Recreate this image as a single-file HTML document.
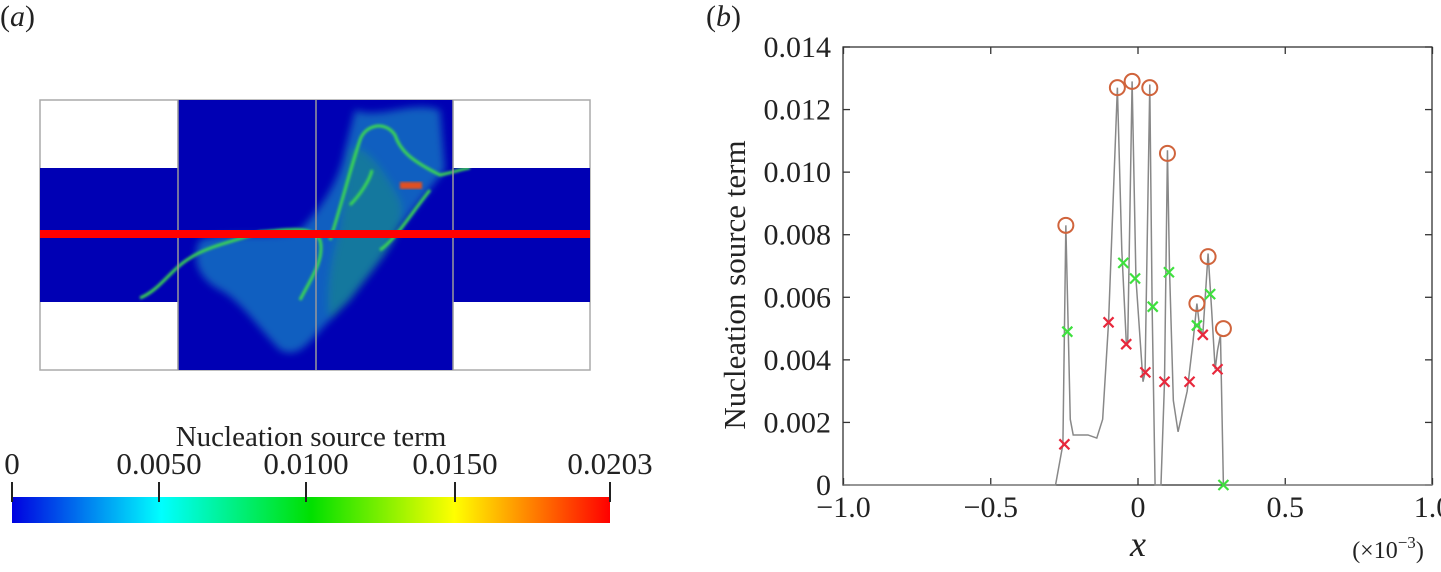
<!DOCTYPE html>
<html><head><meta charset="utf-8"><style>
body{margin:0;background:#fff;width:1441px;height:567px;overflow:hidden;font-family:"Liberation Serif",serif;}
svg text{font-family:"Liberation Serif",serif;fill:#222;}
</style></head><body>
<svg width="1441" height="567">
<text x="0" y="26" font-size="30">(<tspan font-style="italic">a</tspan>)</text>
<text x="706" y="26" font-size="30">(<tspan font-style="italic">b</tspan>)</text>
<defs>
<filter id="bl" x="-20%" y="-20%" width="140%" height="140%"><feGaussianBlur stdDeviation="4"/></filter>
<filter id="bl2"><feGaussianBlur stdDeviation="1.2"/></filter>
<linearGradient id="cb" x1="0" x2="1"><stop offset="0" stop-color="#0000e0"/><stop offset="0.25" stop-color="#00ffff"/><stop offset="0.5" stop-color="#00e000"/><stop offset="0.74" stop-color="#ffff00"/><stop offset="1" stop-color="#ff0000"/></linearGradient>
<clipPath id="cc"><rect x="178" y="100" width="275" height="270"/><rect x="40" y="168" width="550" height="134"/></clipPath>
</defs>
<g>
<rect x="40" y="100" width="550" height="270" fill="#fff" stroke="#aaa" stroke-width="1.5"/>
<rect x="178" y="100" width="275" height="270" fill="#0000b4"/>
<rect x="40" y="168" width="550" height="134" fill="#0000b4"/>
<g clip-path="url(#cc)">
<g filter="url(#bl)" opacity="0.6">
<path d="M355 110 C380 120 410 100 440 110 L445 170 C420 200 400 230 380 250 C360 270 350 300 330 320 C310 340 300 360 280 350 C260 330 240 300 220 290 C200 280 190 260 200 240 C230 230 270 240 300 230 C320 210 340 180 345 150 Z" fill="#1e9fc8"/>
<path d="M350 150 C365 140 390 180 400 200 C410 230 380 260 350 300 L330 320 C325 300 330 260 340 230 Z" fill="#22c890"/>
</g>
<g filter="url(#bl2)" fill="none" stroke="#3ddc50" stroke-width="3">
<path d="M140 298 C160 290 170 270 190 258 C210 245 240 240 260 232 C290 230 310 225 320 240 C325 260 310 280 300 300"/>
<path d="M330 240 C340 210 350 170 360 140 C365 125 385 120 395 135 C400 150 410 160 440 175 C455 172 465 168 470 168"/>
<path d="M350 205 C360 195 370 180 372 170"/>
<path d="M430 190 C410 215 395 240 380 250"/>
</g>
<rect x="400" y="182" width="22" height="7" fill="#e05020" filter="url(#bl2)"/>
</g>
<line x1="316" y1="100" x2="316" y2="370" stroke="#999" stroke-width="1.5"/>
<line x1="178" y1="100" x2="178" y2="370" stroke="#999" stroke-width="1.5"/>
<line x1="453" y1="100" x2="453" y2="370" stroke="#999" stroke-width="1.5"/>
<rect x="40" y="230" width="550" height="8" fill="#ff0000"/>
</g>
<g>
<text x="311" y="446" font-size="29" text-anchor="middle">Nucleation source term</text>
<rect x="12" y="497" width="598" height="26" fill="url(#cb)"/>
<g stroke="#222" stroke-width="2">
<line x1="12" y1="482" x2="12" y2="502"/><line x1="159" y1="482" x2="159" y2="502"/><line x1="306" y1="482" x2="306" y2="502"/><line x1="455" y1="482" x2="455" y2="502"/><line x1="610" y1="482" x2="610" y2="502"/>
</g>
<g font-size="31" text-anchor="middle">
<text x="12" y="474">0</text>
<text x="159" y="474">0.0050</text>
<text x="306" y="474">0.0100</text>
<text x="455" y="474">0.0150</text>
<text x="610" y="474">0.0203</text>
</g>
</g>
<g id="chart"></g>
</svg>
<script>
const xTicks=[-1.0,-0.5,0,0.5,1.0];
const xTickLabels=["\u22121.0","\u22120.5","0","0.5","1.0"];
const yTicks=[0,0.002,0.004,0.006,0.008,0.010,0.012,0.014];
const yTickLabels=["0","0.002","0.004","0.006","0.008","0.010","0.012","0.014"];
const lineX=[-1.0,-0.28,-0.255,-0.245,-0.237,-0.23,-0.22,-0.197,-0.17,-0.14,-0.12,-0.10,-0.07,-0.055,-0.04,-0.035,-0.02,-0.007,0.017,0.024,0.04,0.048,0.058,0.078,0.09,0.10,0.107,0.12,0.136,0.167,0.187,0.20,0.21,0.22,0.238,0.25,0.262,0.27,0.28,0.29,1.0];
const lineY=[0,0,0.0013,0.0083,0.005,0.0021,0.0016,0.0016,0.0016,0.0015,0.0021,0.0052,0.0127,0.0075,0.0046,0.0045,0.0129,0.0066,0.0033,0.0036,0.0128,0.0057,0,0,0.0033,0.0107,0.0069,0.0027,0.0017,0.003,0.0046,0.0058,0.005,0.0048,0.0074,0.0056,0.0037,0.0043,0.0048,0,0];
const peakX=[-0.245,-0.07,-0.02,0.04,0.10,0.20,0.238,0.29];
const peakY=[0.0083,0.0127,0.0129,0.0127,0.0106,0.0058,0.0073,0.0050];
const greenX=[-0.24,-0.05,-0.01,0.05,0.105,0.20,0.245,0.29];
const greenY=[0.0049,0.0071,0.0066,0.0057,0.0068,0.0051,0.0061,0];
const redX=[-0.25,-0.10,-0.04,0.025,0.09,0.175,0.22,0.27];
const redY=[0.0013,0.0052,0.0045,0.0036,0.0033,0.0033,0.0048,0.0037];
const L=843,R=1432,T=47,B=485;
const sx=v=>1138+v*294.5, sy=v=>B-v/0.014*(B-T);
const NS='http://www.w3.org/2000/svg', g=document.getElementById('chart');
function mk(t,a,txt){const e=document.createElementNS(NS,t);for(const k in a)e.setAttribute(k,a[k]);if(txt!==undefined)e.textContent=txt;g.appendChild(e);return e;}
let f=mk('rect',{x:L,y:T,width:R-L,height:B-T,fill:'none',stroke:'#333','stroke-width':1.3});


xTicks.forEach((v,i)=>{
 mk('line',{x1:sx(v),x2:sx(v),y1:B,y2:B-7,stroke:'#333','stroke-width':1.3});
 mk('line',{x1:sx(v),x2:sx(v),y1:T,y2:T+7,stroke:'#333','stroke-width':1.3});
 const t=mk('text',{x:sx(v),y:B+32,'font-size':30,'text-anchor':'middle'},xTickLabels[i]);
 
 
});
yTicks.forEach((v,i)=>{
 mk('line',{x1:L,x2:L+7,y1:sy(v),y2:sy(v),stroke:'#333','stroke-width':1.3});
 mk('line',{x1:R,x2:R-7,y1:sy(v),y2:sy(v),stroke:'#333','stroke-width':1.3});
 const t=mk('text',{x:L-12,y:sy(v)+10,'font-size':30,'text-anchor':'end'},yTickLabels[i]);
 
 
});
let yt=mk('text',{x:0,y:0,'font-size':31,'text-anchor':'middle',transform:'translate(745,285) rotate(-90)'},'Nucleation source term');


let xt=mk('text',{x:1138,y:556,'font-size':36,'font-style':'italic','text-anchor':'middle'},'x');


let xs=mk('text',{x:1388,y:558,'font-size':24,'text-anchor':'middle'},'(\u00d710');


const sup=document.createElementNS(NS,'tspan');sup.setAttribute('dy','-10');sup.setAttribute('font-size','17');sup.textContent='\u22123';xs.appendChild(sup);
const cl=document.createElementNS(NS,'tspan');cl.setAttribute('dy','10');cl.textContent=')';xs.appendChild(cl);
let pts=lineX.map((v,i)=>sx(v)+','+sy(lineY[i])).join(' ');
let pl=mk('polyline',{points:pts,fill:'none',stroke:'#888','stroke-width':1.5});


peakX.forEach((v,i)=>{let c=mk('circle',{cx:sx(v),cy:sy(peakY[i]),r:7.5,fill:'none',stroke:'#d0643c','stroke-width':2});
 
 });
function cross(x,y,col,name){const p=mk('path',{d:`M${x-5} ${y-5}L${x+5} ${y+5}M${x-5} ${y+5}L${x+5} ${y-5}`,stroke:col,'stroke-width':2.2});
 
 }
greenX.forEach((v,i)=>cross(sx(v),sy(greenY[i]),'#3ee03e','green-marker'));
redX.forEach((v,i)=>cross(sx(v),sy(redY[i]),'#e8283c','red-marker'));
</script>
</body></html>
